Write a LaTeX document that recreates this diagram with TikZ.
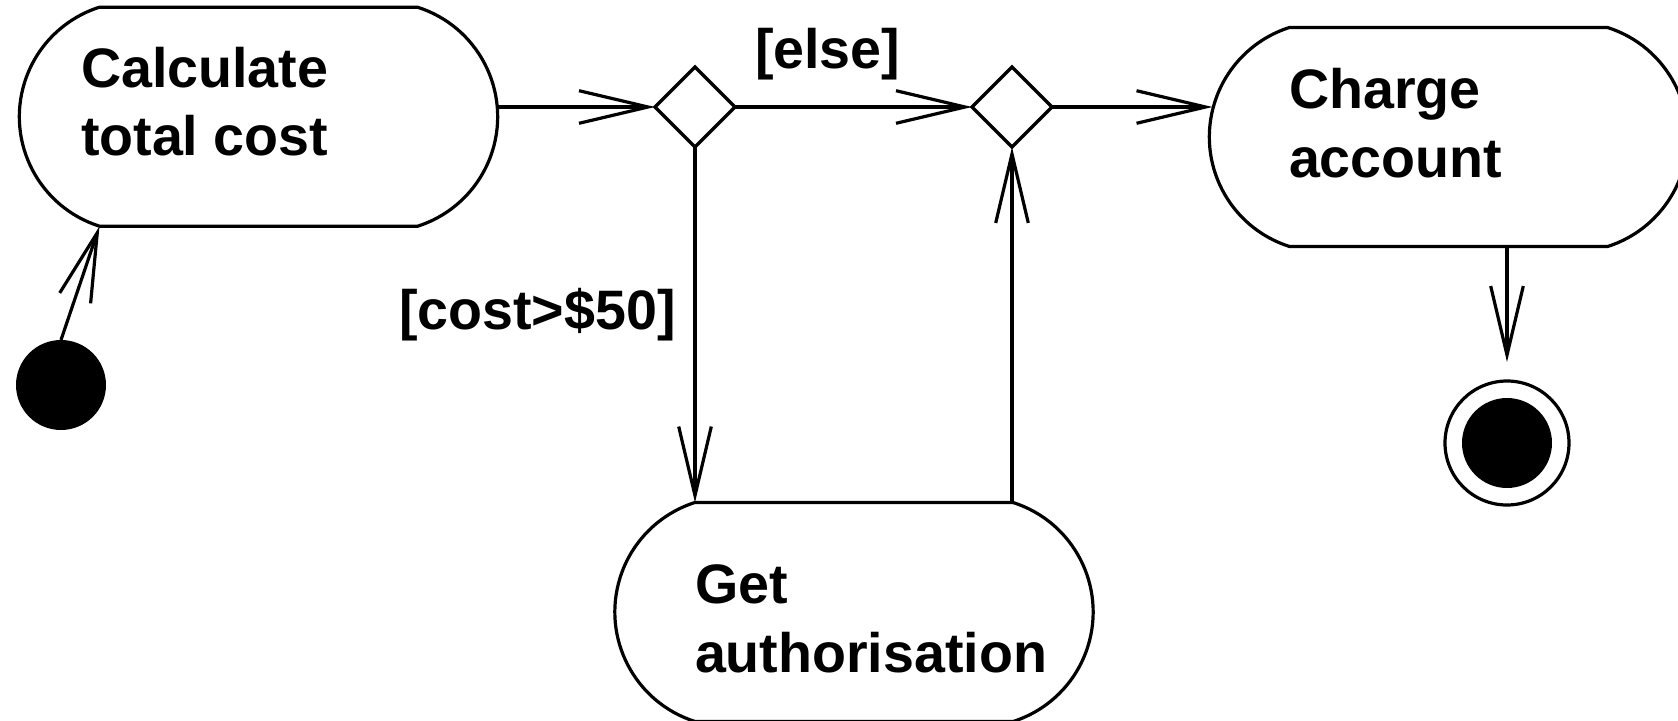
\documentclass[tikz,border=0pt]{standalone}
\usepackage{fontspec}
\setmainfont{Liberation Sans}
\usetikzlibrary{arrows.meta,shapes.geometric,calc}
\begin{document}
\begin{tikzpicture}[x=0.5pt,y=0.5pt,
  every node/.style={inner sep=0pt, outer sep=0pt},
  txt/.style={font=\fontsize{27.8pt}{34.5pt}\selectfont\bfseries, anchor=base west},
  actbox/.style={rectangle, minimum width=239pt, minimum height=109.5pt},
  boxline/.style={line width=1.6pt, line join=round},
  decision/.style={diamond, draw, line width=1.6pt, minimum width=40pt, minimum height=40pt, aspect=1},
  flow/.style={line width=1.6pt, -{Straight Barb[length=34.5pt,width=16.3pt]}},
  startdot/.style={circle, fill=black, minimum size=45pt},
  enddot/.style={circle, draw, line width=1.6pt, minimum size=62pt,
    path picture={\fill (path picture bounding box.center) circle[radius=22.5pt];}}
]
\useasboundingbox (0,0) rectangle (1678,720);
\fill[white] (0,0) rectangle (1678,720);

% action boxes (invisible frames; outline drawn below)
\node[actbox] (calcbox) at (258.5,603.3) {};
\node[actbox] (auth) at (854,108) {};
\node[actbox] (charge) at (1448.5,583) {};
\foreach \n in {calcbox,auth,charge}
  \draw[boxline] ($(\n.north)+(-159,0)$) -- ($(\n.north)+(159,0)$)
     arc[start angle=72.4, end angle=-72.4, radius=114.9]
     -- ($(\n.south)+(-159,0)$)
     arc[start angle=252.4, end angle=107.6, radius=114.9] -- cycle;

% texts
\node[txt] (calctxt) at (81,633) {\vtop{\hbox{Calculate}\hbox{total cost}}};
\node[txt] (chargetxt) at (1289,612) {\vtop{\hbox{Charge}\hbox{account}}};
\node[txt] (authtxt) at (695,117) {\vtop{\hbox{Get}\hbox{authorisation}}};

% decisions
\node[decision] (d1) at (695,613) {};
\node[decision] (d2) at (1012,613) {};

% initial and final
\node[startdot] (start) at (61,335) {};
\node[enddot] (enddot) at (1507,277) {};

% guards
\node[txt] (elselbl) at (755,652) {[else]};
\node[txt] (costlbl) at (399,391) {[cost>\$50]};

% flows
\draw[flow] (start.north) -- ($(calcbox.south)+(-159,0)$);
\draw[flow] (calcbox.east |- d1.west) -- (d1.west);
\draw[flow] (d1.east) -- (d2.west);
\draw[flow] (d2.east) -- ($(charge.west |- d2.east)+(3,0)$);
\draw[flow] (d1.south) -- (d1.south |- auth.north);
\draw[flow] (auth.north -| d2.south) -- (d2.south);
\draw[flow, shorten >=9.5pt] (charge.south -| enddot) -- (enddot.north);
\end{tikzpicture}
\end{document}
